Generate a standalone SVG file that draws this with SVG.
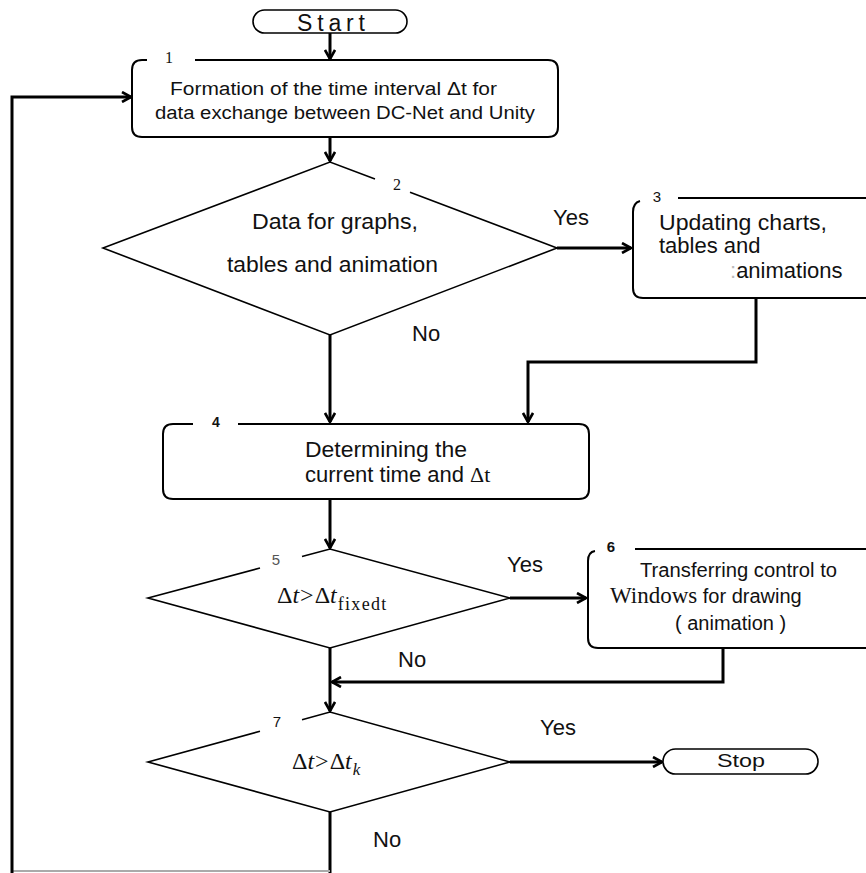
<svg xmlns="http://www.w3.org/2000/svg" width="866" height="873" viewBox="0 0 866 873">
<style>
.bg{fill:#fff}
.box{fill:none;stroke:#000;stroke-width:2}
.dia{fill:none;stroke:#000;stroke-width:1.6}
.term{fill:#fff;stroke:#000;stroke-width:1.6}
.con{fill:none;stroke:#000;stroke-width:3}
.gray{fill:none;stroke:#aaa;stroke-width:2}
.t{font-family:"Liberation Sans",Arial,sans-serif;font-size:22px;fill:#111}
.t18{font-family:"Liberation Sans",Arial,sans-serif;font-size:18px;fill:#111}
.t20{font-family:"Liberation Sans",Arial,sans-serif;font-size:20px;fill:#111}
.m{font-family:"Liberation Serif","Times New Roman",serif;font-size:24px;fill:#111}
.ns{font-family:"Liberation Serif","Times New Roman",serif;font-size:16px;fill:#111}
.n{font-family:"Liberation Sans",Arial,sans-serif;font-size:15px;fill:#111}
</style>
<defs>
<marker id="arr" viewBox="0 0 12 12" markerWidth="12" markerHeight="12" refX="11" refY="6" orient="auto" markerUnits="userSpaceOnUse">
<path d="M2,1 L11,6 L2,11" fill="none" stroke="#000" stroke-width="2.6" stroke-linejoin="miter"/>
</marker>
</defs>
<rect class="bg" x="0" y="0" width="866" height="873"/>

<g id="connectors">
<path class="con" d="M330,33 V59" marker-end="url(#arr)"/>
<path class="con" d="M330,137 V161" marker-end="url(#arr)"/>
<path class="con" d="M557,248 H631" marker-end="url(#arr)"/>
<path class="con" d="M330,335 V422" marker-end="url(#arr)"/>
<path class="con" d="M756,298 V362 H528 V422" marker-end="url(#arr)"/>
<path class="con" d="M330,499 V548" marker-end="url(#arr)"/>
<path class="con" d="M510,598 H586" marker-end="url(#arr)"/>
<path class="con" d="M330,648 V711" marker-end="url(#arr)"/>
<path class="con" d="M723,648 V682 H332" marker-end="url(#arr)"/>
<path class="con" d="M510,762 H662" marker-end="url(#arr)"/>
<path class="con" d="M330,812 V873"/>
<path class="gray" d="M12,871 H330"/>
<path class="con" d="M12,873 V97 H131" marker-end="url(#arr)"/>
<text class="t" x="553" y="225">Yes</text>
<text class="t" x="412" y="341">No</text>
<text class="t" x="507" y="572">Yes</text>
<text class="t" x="398" y="667">No</text>
<text class="t" x="540" y="735">Yes</text>
<text class="t" x="373" y="847">No</text>
</g>

<g id="start">
<rect class="term" x="253" y="10" width="154" height="23" rx="11.5"/>
<text class="t" x="297" y="31" style="font-size:23px" textLength="68" lengthAdjust="spacing">Start</text>
</g>

<g id="node1">
<path class="box" d="M195,60 H548 Q558,60 558,70 V127 Q558,137 548,137 H142 Q132,137 132,127 V70 Q132,60 142,60 H147"/>
<text class="ns" x="169" y="63" text-anchor="middle">1</text>
<text class="t18" x="170" y="95" textLength="327" lengthAdjust="spacingAndGlyphs">Formation of the time interval Δt  for</text>
<text class="t18" x="155" y="119" textLength="380" lengthAdjust="spacingAndGlyphs">data exchange between DC-Net and Unity</text>
</g>

<g id="node2">
<path class="dia" d="M375,179 L330,162 L103,248 L330,335 L557,248 L410,192.3"/>
<text class="ns" x="397" y="190" text-anchor="middle">2</text>
<text class="t" x="252" y="229" textLength="166" lengthAdjust="spacingAndGlyphs">Data for graphs,</text>
<text class="t" x="227" y="272" textLength="211" lengthAdjust="spacingAndGlyphs">tables and animation</text>
</g>

<g id="node3">
<path class="box" d="M640,201 Q633,203 633,212 V288 Q633,298 643,298 H870"/>
<path class="box" d="M678,198 H870"/>
<text class="n" x="657" y="202" text-anchor="middle">3</text>
<text class="t" x="659" y="230" textLength="168" lengthAdjust="spacingAndGlyphs">Updating charts,</text>
<text class="t" x="659" y="253">tables and</text>
<text class="t" x="730" y="278"><tspan fill="#bbb">:</tspan>animations</text>
</g>

<g id="node4">
<path class="box" d="M238,424 H579 Q589,424 589,434 V489 Q589,499 579,499 H173 Q163,499 163,489 V434 Q163,424 173,424 H193"/>
<text class="n" x="216" y="427" text-anchor="middle" style="font-size:14px;font-weight:bold">4</text>
<text class="t" x="305" y="457" textLength="162" lengthAdjust="spacingAndGlyphs">Determining the</text>
<text class="t" x="305" y="482">current time and <tspan font-family="Liberation Serif,serif">Δt</tspan></text>
</g>

<g id="node5">
<path class="dia" d="M302,556.5 L330,549 L510,598 L330,648 L148,598 L260,568"/>
<text class="n" x="276" y="565" text-anchor="middle" style="fill:#555">5</text>
<text class="m" x="277" y="603">Δ<tspan font-style="italic">t</tspan><tspan dx="1">&gt;</tspan><tspan dx="1">Δ</tspan><tspan font-style="italic">t</tspan><tspan font-size="18" dy="7" dx="1" letter-spacing="1.3">fixedt</tspan></text>
</g>

<g id="node6">
<path class="box" d="M595,551 Q588,552 588,561 V638 Q588,648 598,648 H870"/>
<path class="box" d="M635,549 H870"/>
<text class="n" x="611" y="552" text-anchor="middle" style="font-weight:bold">6</text>
<text class="t20" x="640" y="577" textLength="197" lengthAdjust="spacingAndGlyphs">Transferring control to</text>
<text class="t20" x="610" y="603"><tspan font-family="Liberation Serif,serif" font-size="23">Windows</tspan> for drawing</text>
<text class="t20" x="675" y="630">( animation )</text>
</g>

<g id="node7">
<path class="dia" d="M302,719.7 L330,712 L510,762 L330,812 L148,762 L260,731.2"/>
<text class="n" x="277" y="727" text-anchor="middle">7</text>
<text class="m" x="292" y="769">Δ<tspan font-style="italic">t</tspan><tspan dx="1">&gt;</tspan><tspan dx="1">Δ</tspan><tspan font-style="italic">t</tspan><tspan font-size="17" dy="6" dx="1" font-style="italic">k</tspan></text>
</g>

<g id="stop">
<rect class="term" x="663" y="749" width="155" height="25" rx="12.5"/>
<text class="t" x="717" y="767" style="font-size:18px" textLength="48" lengthAdjust="spacingAndGlyphs">Stop</text>
</g>
</svg>
